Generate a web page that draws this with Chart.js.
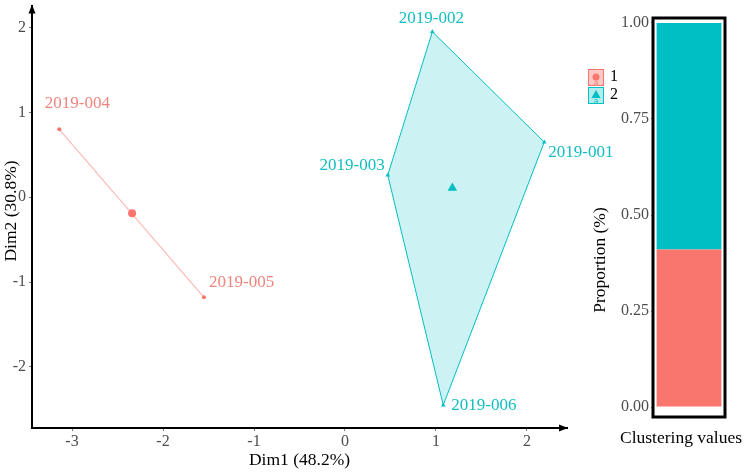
<!DOCTYPE html>
<html><head><meta charset="utf-8">
<script src="https://cdn.jsdelivr.net/npm/chart.js@4/dist/chart.umd.min.js"></script>
<style>
html,body{margin:0;padding:0;background:#fff;}
#wrap{position:relative;width:744px;height:474px;overflow:hidden;}
#c1{position:absolute;left:0;top:0;}
#c2{position:absolute;left:580px;top:0;}
</style></head><body>
<div id="wrap">
<canvas id="c1" width="620" height="474"></canvas>
<canvas id="c2" width="164" height="474"></canvas>
</div>
<script>
// ---- data ----
const sampleNames = ['2019-001','2019-002','2019-003','2019-004','2019-005','2019-006'];
const dim1 = [2.19, 0.96, 0.47, -3.14, -1.55, 1.08];
const dim2 = [0.65, 1.95, 0.26, 0.80, -1.18, -2.45];
const clusterOf = [2, 2, 2, 1, 1, 2];
const clusterNames = ['1', '2'];
const centroidDim1 = [-2.34, 1.18];
const centroidDim2 = [-0.19, 0.11];
const hullCluster1 = [3, 4];
const hullCluster2 = [1, 0, 5, 2, 1];
const proportion = [0.41, 0.59];
const xTicks = [-3, -2, -1, 0, 1, 2];
const yTicks = [-2, -1, 0, 1, 2];
const propTicks = [0, 0.25, 0.5, 0.75, 1];
const xTitle = 'Dim1 (48.2%)';
const yTitle = 'Dim2 (30.8%)';
const barYTitle = 'Proportion (%)';
const barXTitle = 'Clustering values';

// ---- styles ----
const RED = '#F8766D', TEAL = '#00BFC4';
const SERIF = '"Liberation Serif", "Times New Roman", serif';
const TICKCOL = '#4d4d4d';
// label placement relative to point: [dx, dy, align]
const labelPlace = {
  '2019-001': [4, 10, 'left'],
  '2019-002': [-1, -13, 'center'],
  '2019-003': [-3, -10, 'right'],
  '2019-004': [18, -26, 'center'],
  '2019-005': [5, -15, 'left'],
  '2019-006': [8, 0, 'left']
};

const pts = idx => idx.map(i => ({x: dim1[i], y: dim2[i]}));
const idxOf = c => clusterOf.map((k, i) => k === c ? i : -1).filter(i => i >= 0);

const fixTicks = arr => function(scale){ scale.ticks = arr.map(v => ({value: v})); };
const noPad = s => { s.paddingTop = 0; s.paddingBottom = 0; s.paddingLeft = 0; s.paddingRight = 0; };

const plotDecor = {
  id: 'plotDecor',
  afterDraw(chart) {
    const ctx = chart.ctx, a = chart.chartArea;
    const xs = chart.scales.x, ys = chart.scales.y;
    ctx.save();
    // axis arrows
    ctx.fillStyle = '#000';
    ctx.beginPath();
    ctx.moveTo(a.left, a.top - 1); ctx.lineTo(a.left - 3.5, a.top + 8); ctx.lineTo(a.left + 3.5, a.top + 8); ctx.closePath(); ctx.fill();
    ctx.beginPath();
    ctx.moveTo(a.right + 1, a.bottom); ctx.lineTo(a.right - 8, a.bottom - 3.5); ctx.lineTo(a.right - 8, a.bottom + 3.5); ctx.closePath(); ctx.fill();
    // point labels
    ctx.font = '17px ' + SERIF;
    ctx.textBaseline = 'middle';
    sampleNames.forEach((n, i) => {
      const p = labelPlace[n];
      ctx.fillStyle = clusterOf[i] === 1 ? '#EE857C' : '#13BDC1';
      ctx.textAlign = p[2];
      ctx.fillText(n, xs.getPixelForValue(dim1[i]) + p[0], ys.getPixelForValue(dim2[i]) + p[1]);
    });
    // axis titles
    ctx.fillStyle = '#000';
    ctx.font = '17.5px ' + SERIF;
    ctx.textAlign = 'center';
    ctx.fillText(xTitle, (a.left + a.right) / 2, 460);
    ctx.translate(11, 211);
    ctx.rotate(-Math.PI / 2);
    ctx.fillText(yTitle, 0, 0);
    ctx.restore();
  }
};

new Chart(document.getElementById('c1'), {
  type: 'scatter',
  data: {
    datasets: [
      {data: pts(hullCluster2), showLine: true, fill: 'shape', backgroundColor: 'rgba(0,191,196,0.2)',
       borderColor: TEAL, borderWidth: 1, pointRadius: 0, tension: 0},
      {data: pts(hullCluster1), showLine: true, borderColor: 'rgba(248,118,109,0.5)', borderWidth: 1.2, pointRadius: 0},
      {data: pts(idxOf(1)), pointStyle: 'circle', pointRadius: 2, backgroundColor: RED, borderColor: RED, borderWidth: 0},
      {data: pts(idxOf(2)), pointStyle: 'triangle', pointRadius: 2.6, backgroundColor: TEAL, borderColor: TEAL, borderWidth: 0},
      {data: [{x: centroidDim1[0], y: centroidDim2[0]}], pointStyle: 'circle', pointRadius: 4, backgroundColor: RED, borderColor: RED, borderWidth: 0},
      {data: [{x: centroidDim1[1], y: centroidDim2[1]}], pointStyle: 'triangle', pointRadius: 5.5, backgroundColor: TEAL, borderColor: TEAL, borderWidth: 0}
    ]
  },
  options: {
    responsive: false, animation: false,
    layout: {padding: {left: 0, top: 5, right: 53, bottom: 0}},
    plugins: {legend: {display: false}, tooltip: {enabled: false}},
    scales: {
      x: {type: 'linear', min: -3.44, max: 2.44,
          afterBuildTicks: fixTicks(xTicks),
          afterFit(s){ s.height = 46; noPad(s); },
          border: {color: '#000', width: 2},
          grid: {drawOnChartArea: false, tickLength: 3, color: '#777'},
          ticks: {color: TICKCOL, font: {family: SERIF, size: 16}, padding: 1, maxRotation: 0}},
      y: {type: 'linear', min: -2.72, max: 2.26,
          afterBuildTicks: fixTicks(yTicks),
          afterFit(s){ s.width = 32; noPad(s); },
          border: {color: '#000', width: 2},
          grid: {drawOnChartArea: false, tickLength: 3, color: '#777'},
          ticks: {color: TICKCOL, font: {family: SERIF, size: 16}, padding: 3}}
    }
  },
  plugins: [plotDecor]
});

const barDecor = {
  id: 'barDecor',
  afterDraw(chart) {
    const ctx = chart.ctx, a = chart.chartArea;
    ctx.save();
    ctx.strokeStyle = '#000'; ctx.lineWidth = 3;
    ctx.strokeRect(a.left, a.top, a.right - a.left, a.bottom - a.top);
    ctx.fillStyle = '#000';
    ctx.font = '17.5px ' + SERIF;
    ctx.textAlign = 'center'; ctx.textBaseline = 'middle';
    ctx.fillText(barXTitle, 101, 438);
    ctx.save();
    ctx.translate(20, 260); ctx.rotate(-Math.PI / 2);
    ctx.fillText(barYTitle, 0, 0);
    ctx.restore();
    // legend
    const cols = [RED, TEAL], fills = ['rgba(248,118,109,0.4)', 'rgba(0,191,196,0.3)'];
    clusterNames.forEach((n, k) => {
      const bx = 8, by = 69 + k * 18;
      ctx.fillStyle = fills[k]; ctx.fillRect(bx, by, 16, 17);
      ctx.strokeStyle = cols[k]; ctx.lineWidth = 1; ctx.strokeRect(bx + 0.5, by + 0.5, 15, 16);
      ctx.fillStyle = cols[k];
      ctx.font = '11px ' + SERIF;
      ctx.fillText('a', bx + 8, by + 14);
      ctx.beginPath();
      if (k === 0) { ctx.arc(bx + 8, by + 8, 3.5, 0, Math.PI * 2); }
      else { ctx.moveTo(bx + 8, by + 3); ctx.lineTo(bx + 3.5, by + 11); ctx.lineTo(bx + 12.5, by + 11); ctx.closePath(); }
      ctx.fill();
      ctx.fillStyle = '#000';
      ctx.font = '16px ' + SERIF;
      ctx.textAlign = 'left';
      ctx.fillText(n, bx + 22, by + 8);
      ctx.textAlign = 'center';
    });
    ctx.restore();
  }
};

new Chart(document.getElementById('c2'), {
  type: 'bar',
  data: {
    labels: [''],
    datasets: [
      {data: [proportion[0]], backgroundColor: RED, borderWidth: 0, categoryPercentage: 1, barPercentage: 0.9},
      {data: [proportion[1]], backgroundColor: TEAL, borderWidth: 0, categoryPercentage: 1, barPercentage: 0.9}
    ]
  },
  options: {
    responsive: false, animation: false,
    layout: {padding: {left: 0, top: 18, right: 19, bottom: 0}},
    plugins: {legend: {display: false}, tooltip: {enabled: false}},
    scales: {
      x: {stacked: true, display: true, afterFit(s){ s.height = 57; noPad(s); },
          grid: {display: false}, border: {display: false}, ticks: {display: false}},
      y: {stacked: true, min: -0.026, max: 1.013,
          afterBuildTicks: fixTicks(propTicks),
          afterFit(s){ s.width = 73; noPad(s); },
          border: {display: false},
          grid: {drawOnChartArea: false, tickLength: 2, color: '#777'},
          ticks: {color: TICKCOL, font: {family: SERIF, size: 16}, padding: 2, callback: v => v.toFixed(2)}}
    }
  },
  plugins: [barDecor]
});
</script>
</body></html>
